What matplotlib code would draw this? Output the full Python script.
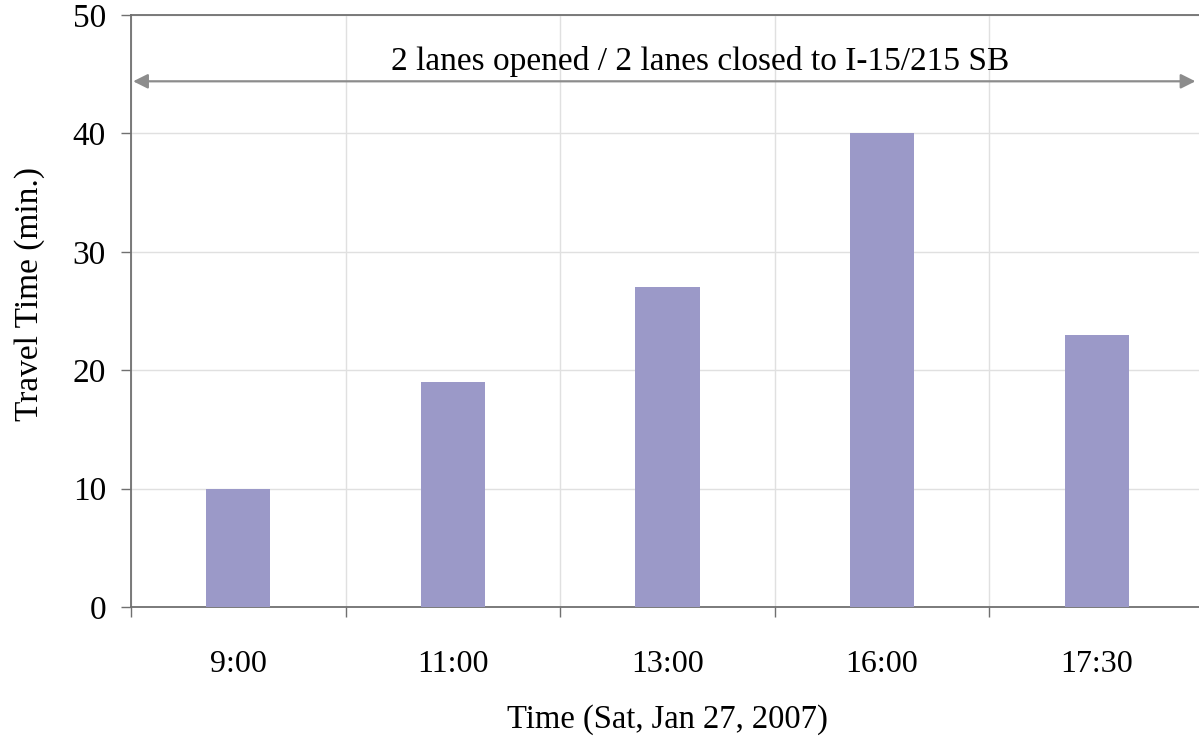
import matplotlib
matplotlib.use("Agg")
import matplotlib.pyplot as plt
import numpy as np

categories = ["9:00", "11:00", "13:00", "16:00", "17:30"]
travel_time = [10, 19, 27, 40, 23]
y_ticks = [0, 10, 20, 30, 40, 50]
annotation = "2 lanes opened / 2 lanes closed to I-15/215 SB"

plt.rcParams['font.family'] = ['Liberation Serif', 'DejaVu Serif']

fig = plt.figure(figsize=(11.99, 7.44), dpi=100)
ax = fig.add_axes([131/1199, (744-607)/744, (1204-131)/1199, 592/744])

x = np.arange(len(categories))
ax.bar(x, travel_time, width=0.3, color="#9b99c8", zorder=3)

ax.set_xlim(-0.5, len(categories) - 0.5)
ax.set_ylim(0, 50)
ax.set_yticks(y_ticks)
ax.set_yticklabels([str(v) for v in y_ticks], fontsize=24)
ax.set_xticks(x)
ax.set_xticklabels(categories, fontsize=23)
ax.set_xticks(np.arange(len(categories) + 1) - 0.5, minor=True)

ax.tick_params(axis='x', which='major', length=0, pad=31)
ax.tick_params(axis='x', which='minor', length=7, color="#707070", width=1)
ax.tick_params(axis='y', which='major', length=7, color="#707070", width=1, pad=11)

ax.grid(True, axis='y', which='major', color="#e0e0e0", lw=1, zorder=0)
ax.grid(True, axis='x', which='minor', color="#e0e0e0", lw=1, zorder=0)

for s in ['left', 'bottom', 'top']:
    ax.spines[s].set_color("#707070")
    ax.spines[s].set_linewidth(1.3)
ax.spines['right'].set_visible(False)

ax.set_xlabel("Time (Sat, Jan 27, 2007)", fontsize=23.5, labelpad=18)
ax.set_ylabel("Travel Time (min.)", fontsize=24)
ax.yaxis.set_label_coords(-0.08, 0.528)

ax.annotate("", xy=(-0.49, 44.4), xytext=(4.46, 44.4),
            arrowprops=dict(arrowstyle="<|-|>", color="#8c8c8c", lw=1.6,
                            mutation_scale=22, shrinkA=0, shrinkB=0), zorder=4)
ax.text(2.15, 45.35, annotation, ha='center', va='baseline', fontsize=24, zorder=5)

fig.savefig("out.png", dpi=100)
